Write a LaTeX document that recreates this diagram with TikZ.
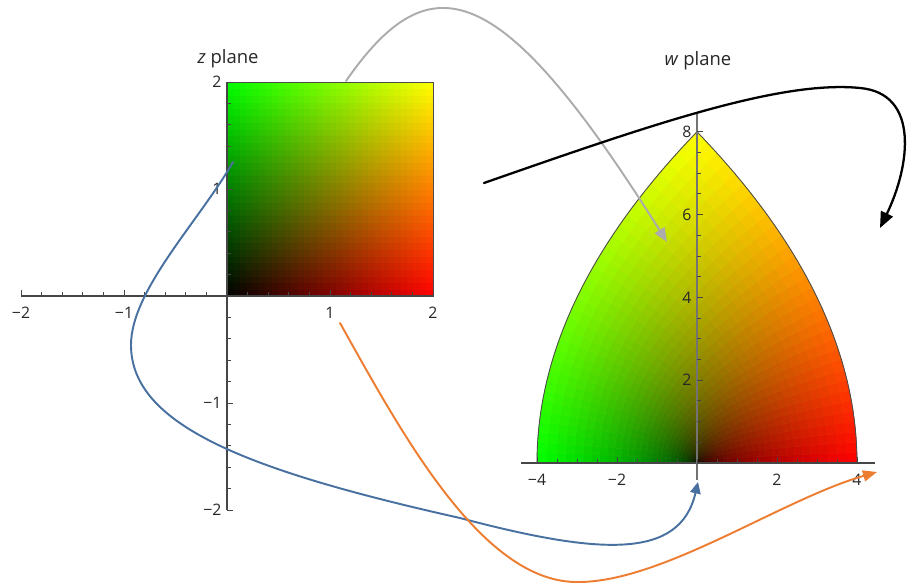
\documentclass[tikz,border=0pt]{standalone}
\usepackage{fontspec}
\setmainfont{Open Sans}
\usepackage{xcolor}
\usepackage{tikz}
\usetikzlibrary{arrows.meta}
\definecolor{mapgray}{RGB}{172,172,172}
\definecolor{mapblue}{RGB}{72,112,160}
\definecolor{maporange}{RGB}{237,125,49}
\definecolor{axisgray}{RGB}{70,70,70}

\begin{document}
\begin{tikzpicture}[
  axis/.style={draw=axisgray, line width=0.6pt},
  tick/.style={draw=axisgray, line width=0.45pt},
  num/.style={font=\fontsize{9}{10}\selectfont, text=black!85, inner sep=1.5pt},
  title/.style={font=\fontsize{10.5}{12}\selectfont, text=black!85},
  cell/.style={fill=cellc, draw=cellc, line width=0.3pt},
  rim/.style={draw=black!70, line width=0.5pt},
  map/.style={line width=1.1pt, line cap=round}]
  \useasboundingbox (0,0) rectangle (18.32,11.72);
  % z plane
  \begin{scope}[shift={(4.54,5.80)}, x=2.06cm, y=2.14cm]
    \foreach \i in {0,...,31}{
      \foreach \j in {0,...,31}{
        \pgfmathsetmacro\rv{(\i+0.5)/32}
        \pgfmathsetmacro\gv{(\j+0.5)/32}
        \definecolor{cellc}{rgb}{\rv,\gv,0}
        \fill[cell] (\i/16,\j/16) rectangle ++(1/16,1/16);
      }}
    \draw[rim] (0,0) rectangle (2,2);
    \draw[axis] (-2,0) -- (2,0);
    \draw[axis] (0,-2) -- (0,2);
    \foreach \k in {-10,...,10}{
      \draw[tick] (\k/5,0) -- ++(0,2pt);
      \draw[tick] (0,\k/5) -- ++(2pt,0);
    }
    \foreach \k in {-2,...,2}{
      \draw[tick] (\k,0) -- ++(0,3.5pt);
      \draw[tick] (0,\k) -- ++(3.5pt,0);
    }
    \foreach \v/\s [count=\c] in {-2/−2,-1/−1,1/1,2/2}{
      \node[num, anchor=north, yshift=-4.5pt] (zx\c) at (\v,0) {\s};
      \node[num, anchor=east, xshift=-1.5pt] (zy\c) at (0,\v) {\s};
    }
  \end{scope}
  % w plane
  \begin{scope}[shift={(13.94,2.46)}, x=0.80cm, y=0.828cm]
    \foreach \i in {0,...,31}{
      \foreach \j in {0,...,31}{
        \pgfmathsetmacro\xa{\i/16}
        \pgfmathsetmacro\xb{(\i+1)/16}
        \pgfmathsetmacro\ya{\j/16}
        \pgfmathsetmacro\yb{(\j+1)/16}
        \pgfmathsetmacro\rv{(\i+0.5)/32}
        \pgfmathsetmacro\gv{(\j+0.5)/32}
        \definecolor{cellc}{rgb}{\rv,\gv,0}
        \fill[cell] ({\xa*\xa-\ya*\ya},{2*\xa*\ya}) -- ({\xb*\xb-\ya*\ya},{2*\xb*\ya})
          -- ({\xb*\xb-\yb*\yb},{2*\xb*\yb}) -- ({\xa*\xa-\yb*\yb},{2*\xa*\yb}) -- cycle;
      }}
    \draw[rim] plot[domain=0:2, samples=40] ({\x*\x-4},{4*\x})
      -- plot[domain=2:0, samples=40] ({4-\x*\x},{4*\x});
    \draw[axis] (-4.4,0) -- (4.45,0);
    \draw[axis, draw=black!55] (0,-0.4) -- (0,8.45);
    \foreach \k in {-8,...,8}
      \draw[tick] (\k/2,0) -- ++(0,2pt);
    \foreach \k in {0,...,16}
      \draw[tick] (0,\k/2) -- ++(2pt,0);
    \foreach \v/\s [count=\c] in {-4/−4,-2/−2,2/2,4/4}{
      \draw[tick] (\v,0) -- ++(0,3.5pt);
      \node[num, anchor=north, yshift=-4.5pt] (wx\c) at (\v,0) {\s};
    }
    \foreach \v [count=\c] in {2,4,6,8}{
      \draw[tick] (0,\v) -- ++(3.5pt,0);
      \node[num, anchor=east, xshift=-1.5pt] (wy\c) at (0,\v) {\v};
    }
  \end{scope}
  \node[title] (zplane) at (4.56,10.54) {\textit{z} plane};
  \node[title] (wplane) at (13.96,10.50) {\textit{w} plane};
  \coordinate (gfrom) at (6.92,10.10);
  \coordinate (gto) at (13.34,6.88);
  \coordinate (kfrom) at (9.68,8.06);
  \coordinate (kmid) at (17.20,9.96);
  \coordinate (kto) at (17.60,7.16);
  \coordinate (bfrom) at (4.66,8.48);
  \coordinate (bleft) at (2.62,4.82);
  \coordinate (bmid) at (9.20,1.36);
  \coordinate (bto) at (13.96,2.08);
  \coordinate (ofrom) at (6.80,5.26);
  \coordinate (olow) at (11.50,0.08);
  \coordinate (oto) at (17.54,2.28);
  \draw[map, mapgray, -{Triangle[length=2.8mm, width=2.3mm]}]
    (gfrom) .. controls (8.60,12.52) and (10.00,12.20) .. (gto);
  \draw[map, black, line width=1.3pt, -{Triangle[length=3.2mm, width=2.6mm]}]
    (kfrom) .. controls (13.00,9.22) and (15.60,10.12) .. (kmid)
    .. controls (18.40,9.85) and (18.20,8.40) .. (kto);
  \draw[map, mapblue, -{Triangle[length=2.3mm, width=2.1mm]}]
    (bfrom) .. controls (4.00,7.32) and (2.62,5.92) .. (bleft)
    .. controls (2.62,3.20) and (5.00,2.30) .. (bmid)
    .. controls (12.00,0.62) and (13.60,0.52) .. (bto);
  \draw[map, maporange, -{Triangle[length=2.8mm, width=2.2mm]}]
    (ofrom) .. controls (8.00,3.12) and (9.60,0.12) .. (olow)
    .. controls (13.20,0.04) and (15.60,1.72) .. (oto);
\end{tikzpicture}
\end{document}
